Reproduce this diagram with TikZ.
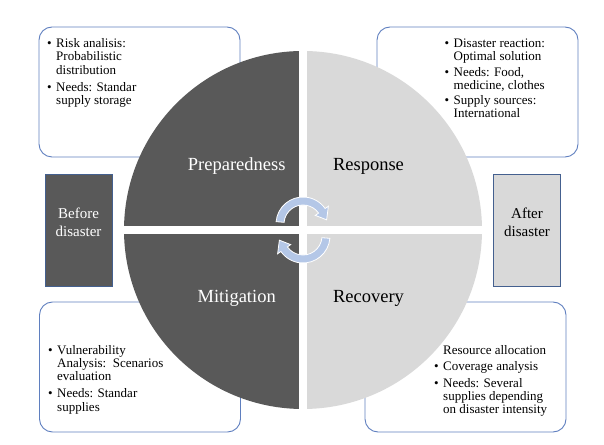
\documentclass[tikz,border=0pt]{standalone}
\usepackage{fontspec}
\setmainfont{Liberation Serif}
\definecolor{darkq}{HTML}{595959}
\definecolor{lightq}{HTML}{D9D9D9}
\definecolor{boxline}{HTML}{5F7FBF}
\definecolor{rectline}{HTML}{44608F}
\definecolor{cyc}{HTML}{B4C7E7}
\newcommand\bulitem{\makebox[9pt][l]{\textbullet}}
\newcommand\contline{\hspace*{9pt}}
\begin{document}
\begin{tikzpicture}[x=1pt,y=1pt,
 infobox/.style={draw=boxline, line width=0.9pt, rounded corners=13pt, minimum width=201pt, minimum height=130pt, inner sep=0pt},
 sidebox/.style={draw=rectline, line width=0.9pt, minimum width=67pt, minimum height=112pt, inner sep=0pt},
 boxtext/.style={anchor=north west, align=left, inner sep=0pt, font=\fontsize{13}{13.3}\selectfont},
 sidetext/.style={anchor=north, align=center, inner sep=0pt, font=\fontsize{15}{18}\selectfont},
 phase/.style={anchor=base, inner sep=0pt, font=\fontsize{18.5}{22}\selectfont},
 cycarrow/.style={fill=cyc, draw=white, line width=0.8pt, line join=miter},
 gapline/.style={draw=white, line width=8.5pt}
]
\useasboundingbox (0,0) rectangle (604,444);

% info boxes
\node[infobox] (tlbox) at (139.5,352) {};
\node[infobox] (trbox) at (477.5,352) {};
\node[infobox] (blbox) at (140,77) {};
\node[infobox] (brbox) at (465.5,77) {};

% side boxes
\node[sidebox, fill=darkq] (before) at (78.5,214) {};
\node[sidebox, fill=lightq] (after) at (527,214) {};

% circle quadrants
\coordinate (cc) at (303,214);
\fill[darkq] (cc) -- ++(90:179) arc[start angle=90, end angle=270, radius=179] -- cycle;
\fill[lightq] (cc) -- ++(-90:179) arc[start angle=-90, end angle=90, radius=179] -- cycle;
\coordinate (vtop) at (303,398);
\coordinate (vbot) at (303,30);
\coordinate (hl) at (120,214);
\coordinate (hr) at (486,214);
\draw[gapline] (vtop) -- (vbot);
\draw[gapline] (hl) -- (hr);

% cycle arrows
\coordinate (tc) at (303,220);
\coordinate (bc) at (303,208);
\path[cycarrow] ([shift={(175:27)}]tc) arc[start angle=175, end angle=35, radius=27]
  -- ([shift={(35:31)}]tc) -- ([shift={(10:24)}]tc) -- ([shift={(35:15)}]tc)
  -- ([shift={(35:19)}]tc) arc[start angle=35, end angle=175, radius=19] -- cycle;
\path[cycarrow] ([shift={(-5:27)}]bc) arc[start angle=-5, end angle=-145, radius=27]
  -- ([shift={(-145:31)}]bc) -- ([shift={(190:24)}]bc) -- ([shift={(-145:15)}]bc)
  -- ([shift={(-145:19)}]bc) arc[start angle=-145, end angle=-5, radius=19] -- cycle;

% phase labels
\node[phase, text=white] (prep) at (236.7,273) {Preparedness};
\node[phase] (resp) at (368.5,273) {Response};
\node[phase, text=white] (miti) at (236.7,141.2) {Mitigation};
\node[phase] (reco) at (368.5,141.2) {Recovery};

% side labels
\node[sidetext, text=white] (beforetext) at (78.5,238.6) {\strut Before\\disaster};
\node[sidetext] (aftertext) at (527,238.6) {\strut After\\disaster};

% box texts
\node[boxtext] (tltext) at (47,406.1) {\strut\bulitem Risk analisis:\\\contline Probabilistic\\\contline distribution\\[4pt]\bulitem Needs: Standar\\\contline supply storage};
\node[boxtext] (trtext) at (444.5,406.1) {\strut\bulitem Disaster reaction:\\\contline Optimal solution\\[2pt]\bulitem Needs: Food,\\\contline medicine, clothes\\[2pt]\bulitem Supply sources:\\\contline International};
\node[boxtext] (bltext) at (48,99.5) {\strut\bulitem Vulnerability\\\contline Analysis:\ \ Scenarios\\\contline evaluation\\[4pt]\bulitem Needs: Standar\\\contline supplies};
\node[boxtext] (brtext) at (434,99.5) {\strut\contline Resource allocation\\[3.3pt]\bulitem Coverage analysis\\[3.3pt]\bulitem Needs: Several\\\contline supplies depending\\\contline on disaster intensity};
\end{tikzpicture}
\end{document}
